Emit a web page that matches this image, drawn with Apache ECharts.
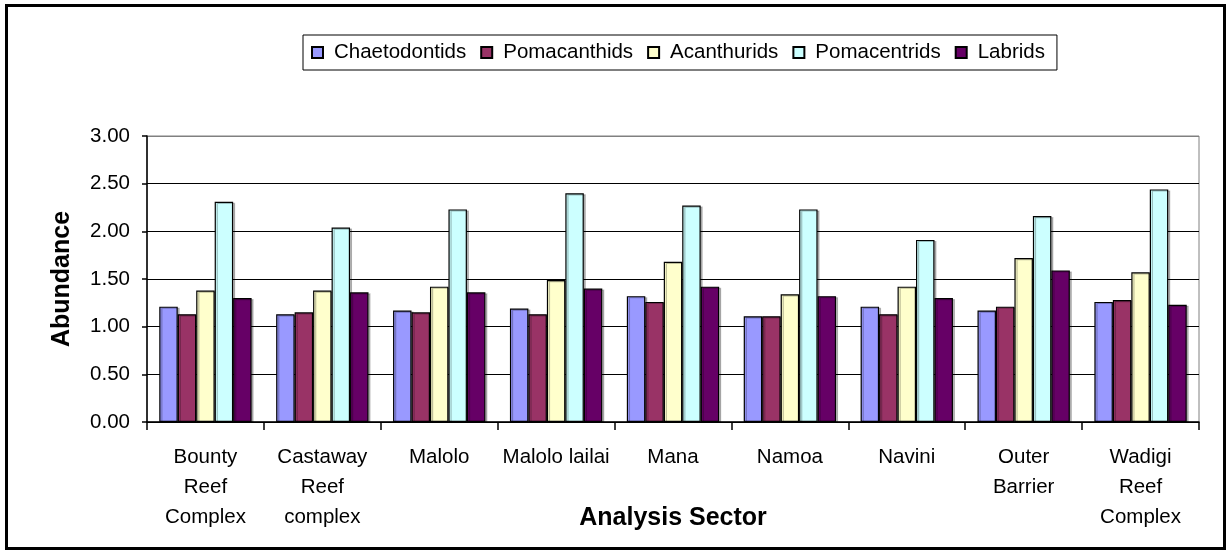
<!DOCTYPE html>
<html>
<head>
<meta charset="utf-8">
<script src="https://cdn.jsdelivr.net/npm/echarts@6/dist/echarts.min.js"></script>
<style>
  html, body { margin: 0; padding: 0; background: #fff; }
  #chart { width: 1228px; height: 551px; }
</style>
</head>
<body>
<div id="chart"></div>
<script>
// Sectors and family abundances
const sectors = [
    'Bounty\nReef\nComplex', 'Castaway\nReef\ncomplex', 'Malolo', 'Malolo lailai',
    'Mana', 'Namoa', 'Navini', 'Outer\nBarrier', 'Wadigi\nReef\nComplex'
];
const chaetodontids = [1.21, 1.13, 1.17, 1.19, 1.32, 1.11, 1.21, 1.17, 1.26];
const pomacanthids  = [1.13, 1.15, 1.15, 1.13, 1.26, 1.11, 1.13, 1.21, 1.28];
const acanthurids   = [1.38, 1.38, 1.42, 1.49, 1.68, 1.34, 1.42, 1.72, 1.57];
const pomacentrids  = [2.31, 2.04, 2.23, 2.40, 2.27, 2.23, 1.91, 2.16, 2.44];
const labrids       = [1.30, 1.36, 1.36, 1.40, 1.42, 1.32, 1.30, 1.59, 1.23];

const seriesNames = ['Chaetodontids', 'Pomacanthids', 'Acanthurids', 'Pomacentrids', 'Labrids'];
const seriesColors = ['#9999ff', '#993366', '#ffffcc', '#ccffff', '#660066'];
const seriesData = [chaetodontids, pomacanthids, acanthurids, pomacentrids, labrids];

const font = 'Liberation Sans, Arial, sans-serif';

const chart = echarts.init(document.getElementById('chart'));

const option = {
    backgroundColor: '#fff',
    animation: false,
    textStyle: { fontFamily: font },
    graphic: [
        {
            type: 'rect',
            shape: { x: 6.5, y: 5.5, width: 1218, height: 543 },
            style: { fill: 'none', stroke: '#000', lineWidth: 3 },
            silent: true
        }
    ],
    legend: {
        left: 303,
        top: 35,
        padding: [7, 12, 7, 8],
        itemWidth: 11,
        itemHeight: 11,
        itemGap: 14,
        icon: 'rect',
        borderColor: '#000',
        borderWidth: 1,
        textStyle: { fontFamily: font, fontSize: 20.5, color: '#000', padding: [0, 0, 0, 6] },
        data: seriesNames
    },
    grid: {
        left: 147,
        right: 29,
        top: 136,
        height: 286,
        show: true,
        borderColor: '#808080',
        borderWidth: 1,
        containLabel: false,
        outerBoundsMode: 'none'
    },
    xAxis: {
        type: 'category',
        data: sectors,
        name: 'Analysis Sector',
        nameLocation: 'middle',
        nameGap: 84,
        nameMoveOverlap: false,
        nameTextStyle: { fontFamily: font, fontSize: 25, fontWeight: 'bold', color: '#000' },
        axisLine: { lineStyle: { color: '#000', width: 1.5 } },
        axisTick: { show: true, interval: 0, length: 8, lineStyle: { color: '#000', width: 1.5 } },
        axisLabel: {
            interval: 0,
            margin: 20,
            color: '#000',
            fontFamily: font,
            fontSize: 20.5,
            lineHeight: 30
        }
    },
    yAxis: {
        type: 'value',
        min: 0,
        max: 3,
        interval: 0.5,
        name: 'Abundance',
        nameLocation: 'middle',
        nameGap: 72,
        nameMoveOverlap: false,
        nameTextStyle: { fontFamily: font, fontSize: 25, fontWeight: 'bold', color: '#000' },
        axisLine: { show: true, lineStyle: { color: '#000', width: 1.5 } },
        axisTick: { show: true, length: 5, lineStyle: { color: '#000', width: 1.5 } },
        axisLabel: {
            margin: 17,
            color: '#000',
            fontFamily: font,
            fontSize: 20.5,
            formatter: v => v.toFixed(2)
        },
        splitLine: {
            show: true,
            lineStyle: {
                color: ['#000', '#000', '#000', '#000', '#000', '#000', '#808080'],
                width: 1.2
            }
        }
    },
    series: seriesNames.map((name, i) => ({
        name: name,
        type: 'bar',
        data: seriesData[i],
        barGap: '0%',
        barCategoryGap: '21%',
        itemStyle: {
            color: seriesColors[i],
            borderColor: '#000',
            borderWidth: 1.2,
            shadowColor: 'rgba(0,0,0,0.25)',
            shadowOffsetX: 2,
            shadowOffsetY: 1
        }
    }))
};

chart.setOption(option);
</script>
</body>
</html>
